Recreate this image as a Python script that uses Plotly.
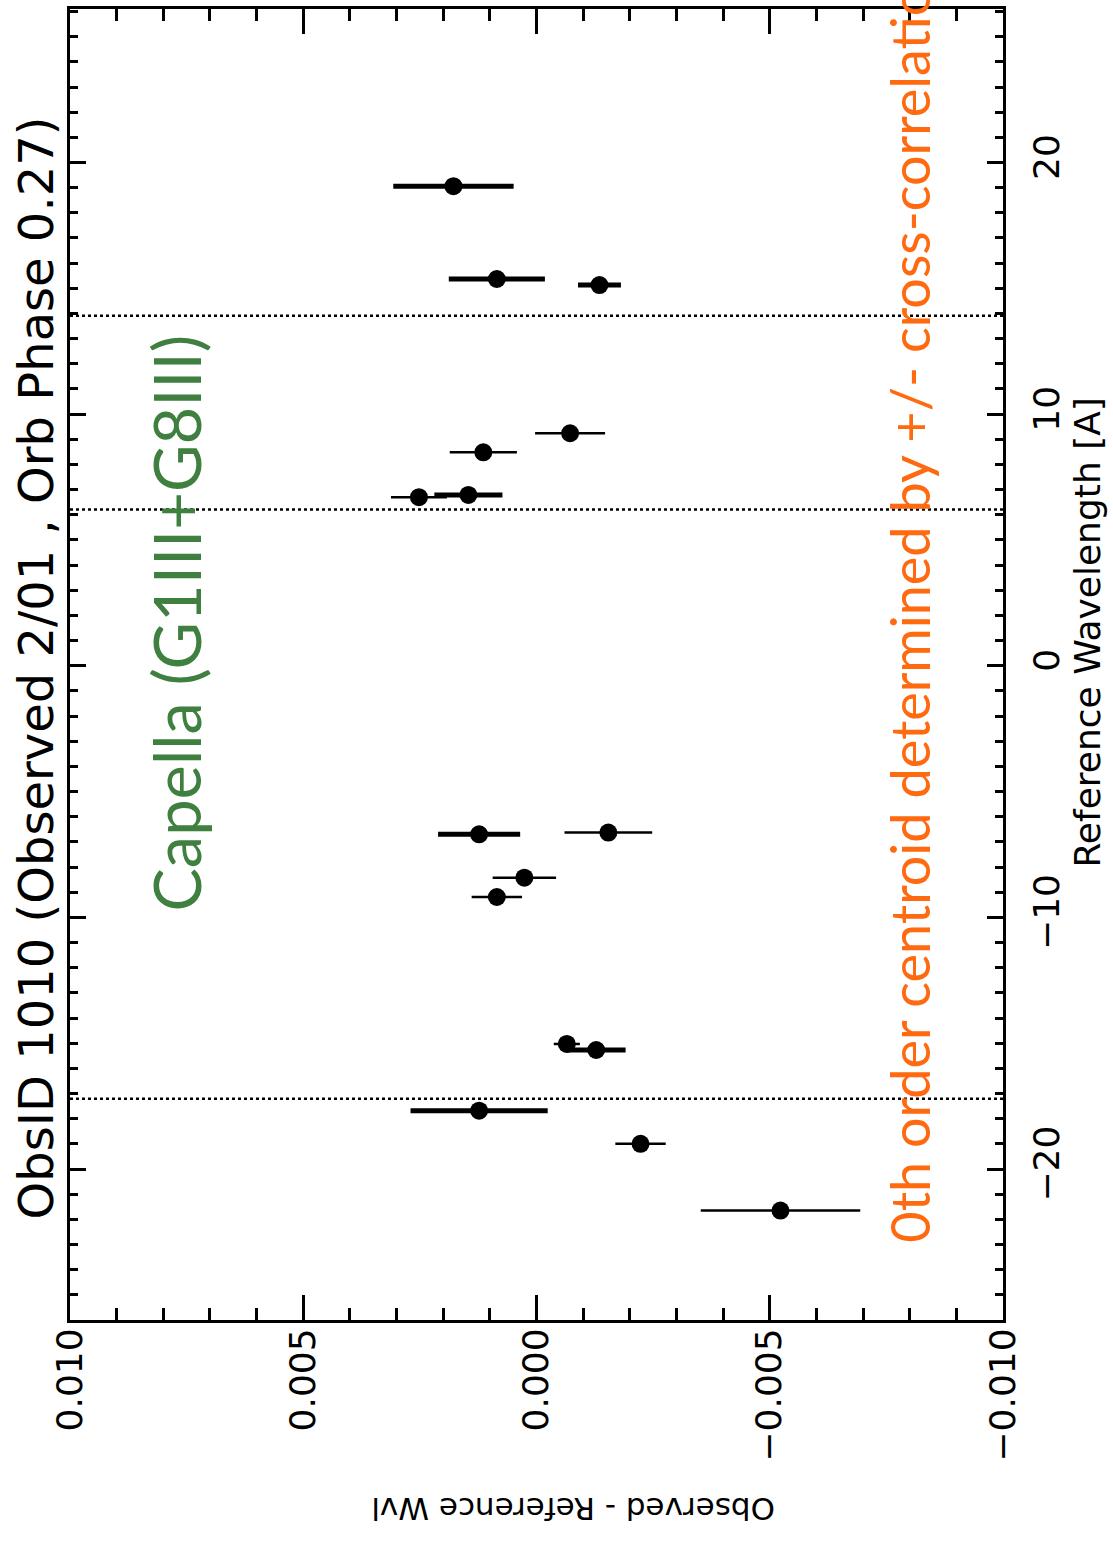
import plotly.graph_objects as go

# Data (wavelength in A, observed-reference in A)
thick_wl = [19.06, 15.37, 15.13, 6.79, -6.70, -15.27, -17.68]
thick_val = [0.00178, 0.00085, -0.00135, 0.00146, 0.00123, -0.00128, 0.00123]
thick_err = [0.00129, 0.00103, 0.00046, 0.00073, 0.00088, 0.00063, 0.00147]

thin_wl = [9.24, 8.48, 6.70, -6.63, -8.42, -9.19, -15.03, -19.00, -21.65]
thin_val = [-0.00072, 0.00114, 0.00252, -0.00154, 0.00026, 0.00085, -0.00065, -0.00223, -0.00523]
thin_err = [0.00075, 0.00072, 0.00060, 0.00094, 0.00068, 0.00054, 0.00028, 0.00054, 0.00171]

line_wl = [13.91, 6.21, -17.21]

x_ticks = [0.010, 0.005, 0.000, -0.005, -0.010]
y_ticks = [-20, -10, 0, 10, 20]

title_text = "ObsID 1010 (Observed 2/01 , Orb Phase 0.27)"
star_text = "Capella (G1III+G8III)"
note_text = "0th order centroid determined by +/- cross-correlation"
xlab = "Observed - Reference Wvl"
ylab = "Reference Wavelength [A]"

fig = go.Figure()
fig.add_trace(go.Scatter(
    x=thick_val, y=thick_wl, mode="markers",
    marker=dict(size=18, color="black", symbol="circle"),
    error_x=dict(type="data", array=thick_err, symmetric=True, color="black",
                 thickness=5, width=0),
    showlegend=False))
fig.add_trace(go.Scatter(
    x=thin_val, y=thin_wl, mode="markers",
    marker=dict(size=18, color="black", symbol="circle"),
    error_x=dict(type="data", array=thin_err, symmetric=True, color="black",
                 thickness=2.5, width=0),
    showlegend=False))

for wl in line_wl:
    fig.add_shape(type="line", xref="paper", x0=0, x1=1, yref="y", y0=wl, y1=wl,
                  line=dict(color="black", width=2.5, dash="dot"))

tickfont = dict(family="DejaVu Sans", size=36, color="black")

fig.update_layout(
    width=1113, height=1541, autosize=False,
    margin=dict(l=70, r=110, t=6, b=221, pad=0),
    paper_bgcolor="white", plot_bgcolor="white",
    xaxis=dict(
        range=[0.010, -0.010], tick0=0, dtick=0.005, tickformat=".3f",
        tickangle=-90, ticks="inside", ticklen=25, tickwidth=3, tickcolor="black",
        showline=True, linewidth=3, linecolor="black", mirror="allticks",
        showgrid=False, zeroline=False, tickfont=tickfont, ticklabelstandoff=-9,
        minor=dict(dtick=0.001, tick0=0, ticks="inside", ticklen=12, tickwidth=3,
                   tickcolor="black", showgrid=False),
    ),
    yaxis=dict(
        range=[-26.0, 26.1], tick0=0, dtick=10, side="right",
        tickangle=-90, ticks="inside", ticklen=16, tickwidth=3, tickcolor="black",
        showline=True, linewidth=3, linecolor="black", mirror="allticks",
        showgrid=False, zeroline=False, tickfont=tickfont, ticklabelstandoff=10,
        minor=dict(dtick=1, tick0=0, ticks="inside", ticklen=8, tickwidth=3,
                   tickcolor="black", showgrid=False),
    ),
)

fig.add_annotation(text=title_text, xref="paper", yref="paper",
                   x=(36 - 70) / 933, y=(1320 - 667) / 1314,
                   xanchor="center", yanchor="middle", textangle=-90, showarrow=False,
                   font=dict(family="DejaVu Sans", size=48, color="black"))
fig.add_annotation(text=star_text, xref="paper", yref="paper",
                   x=(176 - 70) / 933, y=(1320 - 622) / 1314,
                   xanchor="center", yanchor="middle", textangle=-90, showarrow=False,
                   font=dict(family="Lato", size=65, color="#3f7f3f"))
fig.add_annotation(text=note_text, xref="paper", yref="paper",
                   x=(910 - 70) / 933, y=(1320 - 1245) / 1314,
                   xanchor="center", yanchor="bottom", textangle=-90, showarrow=False,
                   font=dict(family="Lato", size=54, color="#ff6a10"))
fig.add_annotation(text=ylab, xref="paper", yref="paper",
                   x=(1088 - 70) / 933, y=(1320 - 631) / 1314,
                   xanchor="center", yanchor="middle", textangle=-90, showarrow=False,
                   font=dict(family="DejaVu Sans", size=36, color="black"))
fig.add_annotation(text=xlab, xref="paper", yref="paper",
                   x=(573 - 70) / 933, y=(1320 - 1510) / 1314,
                   xanchor="center", yanchor="middle", textangle=180, showarrow=False,
                   font=dict(family="DejaVu Sans", size=31, color="black"))

fig.write_html("out.html",
               config={"displayModeBar": False},
               post_script="document.body.style.margin='0';"
                           "document.body.style.overflow='hidden';")
